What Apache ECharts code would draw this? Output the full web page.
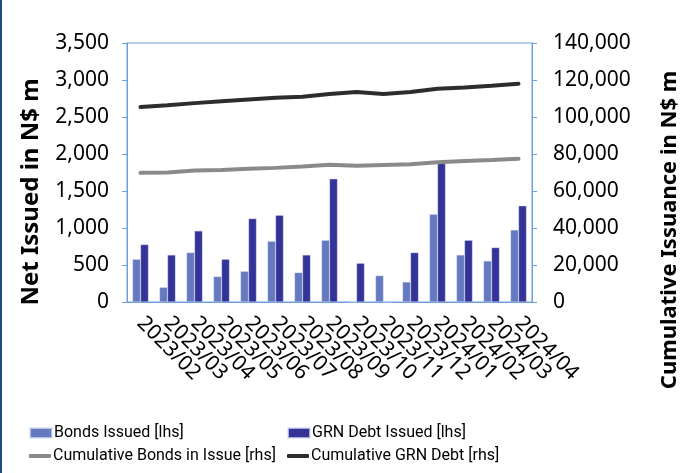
<!DOCTYPE html>
<html>
<head>
    <meta charset="utf-8">
    <title>Net Issuance</title>
    <style>
        html, body, #chart {
            margin: 0;
            padding: 0;
            width: 693px;
            height: 473px;
            background: #fff;
        }
    </style>
</head>
<body>
    <div id="chart"></div>
    <script src="https://cdn.jsdelivr.net/npm/echarts@6/dist/echarts.min.js"></script>
    <script>
        // 月份
        var months = ['2023/02', '2023/03', '2023/04', '2023/05', '2023/06', '2023/07', '2023/08',
            '2023/09', '2023/10', '2023/11', '2023/12', '2024/01', '2024/02', '2024/03', '2024/04'];
        // 左轴：每月发行 (N$ m)
        var bondsIssued = [578, 199, 668, 344, 415, 821, 398, 835, 0, 357, 271, 1187, 636, 555, 974];
        var grnIssued = [777, 636, 961, 578, 1128, 1173, 636, 1664, 524, 0, 668, 1873, 835, 736, 1299];
        // 右轴：累计 (N$ m)
        var cumBonds = [69800, 70000, 71100, 71300, 72000, 72500, 73300, 74150, 73600, 74000, 74400, 75600, 76150, 76700, 77400];
        var cumGrn = [105400, 106300, 107500, 108500, 109500, 110400, 111000, 112400, 113500, 112400, 113500, 115300, 116000, 116900, 118000];

        var axisBlue = '#6c9fdc';
        var fontName = 'Noto Sans';
        var fmt = function (v) { return v.toLocaleString('en-US'); };

        // 单项图例，位置手动指定
        var legendItem = function (name, left, top, isLine) {
            return {
                left: left, top: top,
                itemWidth: 22, itemHeight: isLine ? 4 : 10,
                icon: isLine ? 'roundRect' : 'rect',
                textStyle: { fontSize: 16, fontFamily: 'Roboto', color: '#000', padding: [0, 0, 0, -3] },
                data: [name]
            };
        };

        var myChart = echarts.init(document.getElementById('chart'));
        myChart.setOption({
            animation: false,
            textStyle: { fontFamily: fontName, color: '#000' },
            grid: {
                left: 127, right: 161, top: 43, bottom: 171,
                show: true, borderColor: axisBlue, borderWidth: 1
            },
            legend: [
                legendItem('Bonds Issued [lhs]', 24, 420, false),
                legendItem('GRN Debt Issued [lhs]', 282, 420, false),
                legendItem('Cumulative Bonds in Issue [rhs]', 24, 443, true),
                legendItem('Cumulative GRN Debt [rhs]', 282, 443, true)
            ],
            xAxis: {
                type: 'category',
                data: months,
                axisLine: { lineStyle: { color: axisBlue } },
                axisTick: { lineStyle: { color: axisBlue }, length: 5 },
                axisLabel: { rotate: -45, fontSize: 21, margin: 18, color: '#000', interval: 0 }
            },
            yAxis: [{
                type: 'value', min: 0, max: 3500, interval: 500,
                splitLine: { show: false },
                axisLine: { show: true, lineStyle: { color: axisBlue } },
                axisTick: { show: true, length: 5, lineStyle: { color: axisBlue } },
                axisLabel: { fontSize: 21, margin: 18, color: '#000', formatter: fmt }
            }, {
                type: 'value', min: 0, max: 140000, interval: 20000,
                splitLine: { show: false },
                axisLine: { show: true, lineStyle: { color: axisBlue } },
                axisTick: { show: true, length: 5, lineStyle: { color: axisBlue } },
                axisLabel: { fontSize: 21, margin: 21, color: '#000', formatter: fmt }
            }],
            series: [{
                name: 'Bonds Issued [lhs]', type: 'bar', data: bondsIssued,
                barWidth: 8, barGap: '0%',
                itemStyle: { color: '#6479bf', borderColor: 'rgba(220,225,245,0.7)', borderWidth: 0.5 }
            }, {
                name: 'GRN Debt Issued [lhs]', type: 'bar', data: grnIssued,
                barWidth: 8, barGap: '0%',
                itemStyle: { color: '#343398', borderColor: 'rgba(220,225,245,0.7)', borderWidth: 0.5 }
            }, {
                name: 'Cumulative Bonds in Issue [rhs]', type: 'line', yAxisIndex: 1, data: cumBonds,
                showSymbol: false, symbol: 'none',
                lineStyle: { color: '#8a8a8a', width: 4, cap: 'round' },
                itemStyle: { color: '#8a8a8a' }
            }, {
                name: 'Cumulative GRN Debt [rhs]', type: 'line', yAxisIndex: 1, data: cumGrn,
                showSymbol: false, symbol: 'none',
                lineStyle: { color: '#2d2d2d', width: 4, cap: 'round' },
                itemStyle: { color: '#2d2d2d' }
            }],
            graphic: [{
                // 左侧深蓝色边线
                type: 'rect', left: 0, top: 0,
                shape: { width: 2, height: 473 },
                style: { fill: '#1f4a87' }
            }, {
                type: 'text', rotation: Math.PI / 2,
                x: 19, y: 192,
                style: {
                    text: 'Net Issued in N$ m', fontSize: 24, fontWeight: 'bold',
                    fontFamily: fontName, fill: '#000', align: 'center', verticalAlign: 'top'
                }
            }, {
                type: 'text', rotation: Math.PI / 2,
                x: 659, y: 230,
                style: {
                    text: 'Cumulative Issuance in N$ m', fontSize: 22, fontWeight: 'bold',
                    fontFamily: fontName, fill: '#000', align: 'center', verticalAlign: 'top'
                }
            }]
        });
    </script>
</body>
</html>
